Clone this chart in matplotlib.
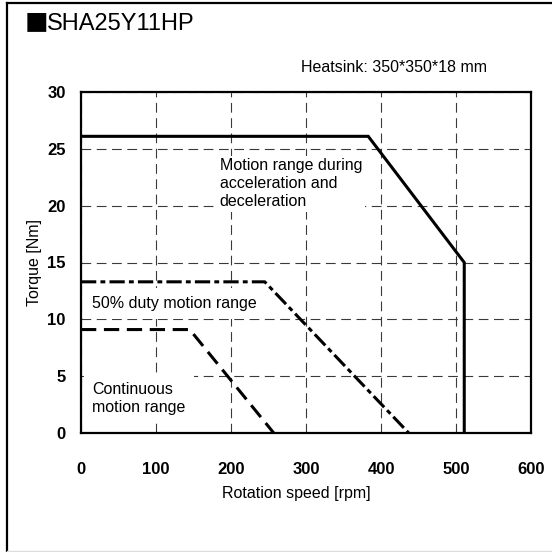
import matplotlib
matplotlib.use("Agg")
import matplotlib.pyplot as plt
from matplotlib.lines import Line2D

plt.rcParams['font.family'] = ['Liberation Sans', 'DejaVu Sans']
plt.rcParams['lines.scale_dashes'] = False

# curves: rotation speed [rpm] vs torque [Nm]
accel_speed = [0, 383, 511, 511]
accel_torque = [26.1, 26.1, 15.0, 0]
duty50_speed = [0, 245, 437]
duty50_torque = [13.3, 13.3, 0]
cont_speed = [0, 145, 257]
cont_torque = [9.1, 9.1, 0]

xticks = [0, 100, 200, 300, 400, 500, 600]
yticks = [0, 5, 10, 15, 20, 25, 30]

title = "SHA25Y11HP"
note = "Heatsink: 350*350*18 mm"

W = 552
fig = plt.figure(figsize=(5.52, 5.52), dpi=100)
ax = fig.add_axes([81 / W, 1 - 433 / W, 450 / W, 341 / W])

ax.plot(accel_speed, accel_torque, color='black', lw=2.2, solid_joinstyle='miter', zorder=3)
ax.plot(duty50_speed, duty50_torque, color='black', lw=2.2, dashes=(11, 3, 3.5, 3), zorder=3)
ax.plot(cont_speed, cont_torque, color='black', lw=2.2, dashes=(11, 5.5), zorder=3)

ax.set_xlim(0, 600)
ax.set_ylim(0, 30)
ax.set_xticks(xticks)
ax.set_yticks(yticks)
ax.tick_params(length=0, labelsize=12)
ax.tick_params(axis='x', pad=21)
ax.tick_params(axis='y', pad=11)
for lab in ax.get_xticklabels() + ax.get_yticklabels():
    lab.set_fontweight('bold')

ax.grid(True, color='#3a3a3a', lw=0.8, dashes=(7, 4), zorder=1)
ax.set_axisbelow(True)
for s in ax.spines.values():
    s.set_linewidth(1.6)

ax.set_xlabel("Rotation speed [rpm]", fontsize=11.5, labelpad=5)
ax.xaxis.set_label_coords(0.478, -0.155)
ax.set_ylabel("Torque [Nm]", fontsize=11.5, labelpad=4)

fs = 11.5
ax.text(185, 24.15, "Motion range during\nacceleration and\ndeceleration",
        fontsize=fs, va='top', ha='left', linespacing=1.25,
        bbox=dict(facecolor='white', edgecolor='none', pad=2), zorder=2)
ax.text(15, 11.4, "50% duty motion range", fontsize=fs, va='center', ha='left',
        bbox=dict(facecolor='white', edgecolor='none', pad=6), zorder=2)
ax.text(15, 4.45, "Continuous\nmotion range", fontsize=fs, va='top', ha='left',
        linespacing=1.2, bbox=dict(facecolor='white', edgecolor='none', pad=6), zorder=2)

# title: full-width square + model name
fig.text(25 / W, 1 - 24 / W, "■", fontsize=17, va='center', ha='left',
         family=['Noto Sans CJK JP', 'DejaVu Sans'])
fig.text(47 / W, 1 - 24 / W, title, fontsize=17, va='center', ha='left')
fig.text(487 / W, 1 - 68 / W, note, fontsize=fs, va='center', ha='right')

# outer frame
fig.add_artist(Line2D([7 / W, 7 / W], [0, 1 - 3 / W], transform=fig.transFigure, color='black', lw=1.6))
fig.add_artist(Line2D([7 / W, 1], [1 - 3 / W, 1 - 3 / W], transform=fig.transFigure, color='black', lw=1.6))
fig.add_artist(Line2D([7 / W, 1], [1.2 / W, 1.2 / W], transform=fig.transFigure, color='#dddddd', lw=1))

fig.savefig("out.png", dpi=100)
